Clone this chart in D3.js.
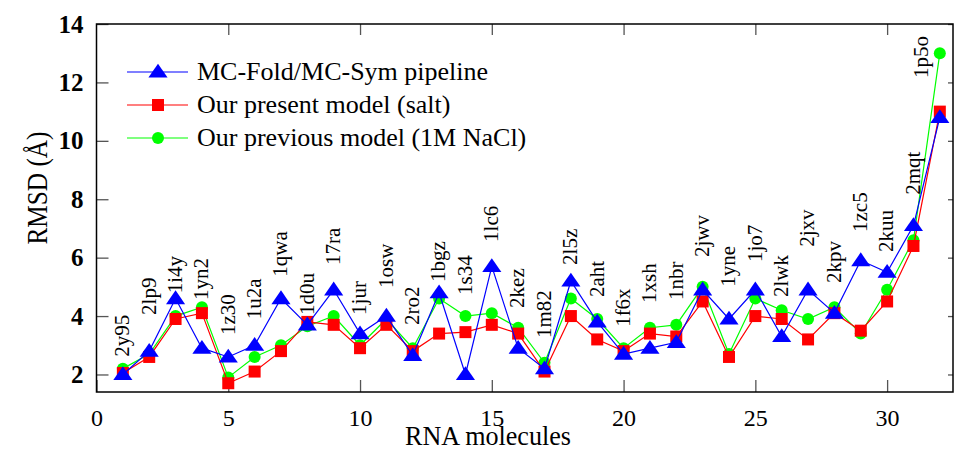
<!DOCTYPE html>
<html>
<head>
<meta charset="utf-8">
<script src="https://cdn.jsdelivr.net/npm/d3@7"></script>
<style>
  html, body { margin: 0; padding: 0; background: #fff; }
  svg { display: block; }
  svg text { font-family: "Liberation Serif", "Times New Roman", serif !important; }
</style>
</head>
<body>
<svg id="chart" width="955" height="451"></svg>
<script>
// ---- data ----
const molecules = ["2y95","2lp9","1i4y","1yn2","1z30","1u2a","1qwa","1d0u","17ra","1jur",
  "1osw","2ro2","1bgz","1s34","1lc6","2kez","1m82","2l5z","2aht","1f6x",
  "1xsh","1nbr","2jwv","1yne","1jo7","2lwk","2jxv","2kpv","1zc5","2kuu","2mqt","1p5o"];
const mcfold   = [2.0,2.8,4.6,2.9,2.6,3.0,4.6,3.7,4.9,3.4,4.0,2.65,4.8,2.0,5.7,2.9,2.2,5.2,3.8,2.7,2.9,3.1,4.9,3.9,4.9,3.3,4.9,4.1,5.9,5.5,7.1,10.8];
const present  = [2.05,2.6,3.9,4.1,1.7,2.1,2.8,3.8,3.7,2.9,3.7,2.8,3.4,3.45,3.7,3.4,2.1,4.0,3.2,2.8,3.4,3.3,4.5,2.6,4.0,3.9,3.2,4.1,3.5,4.5,6.4,11.0];
const previous = [2.2,2.7,4.0,4.3,1.9,2.6,3.0,3.65,4.0,3.0,3.9,2.9,4.6,4.0,4.1,3.6,2.4,4.6,3.9,2.9,3.6,3.7,5.0,2.7,4.6,4.2,3.9,4.3,3.4,4.9,6.6,13.0];
// y value (RMSD units) where each rotated name label starts
const labelAt  = [2.61,4.04,4.78,4.55,3.35,3.89,5.35,4.04,5.75,4.04,4.96,3.69,5.17,4.72,6.54,4.28,3.25,5.75,4.65,3.63,4.45,4.55,6.02,5.0,5.85,4.65,6.37,5.13,6.88,6.19,8.15,12.15];
const xTicks = [0,5,10,15,20,25,30];
const yTicks = [2,4,6,8,10,12,14];
const seriesNames = ["MC-Fold/MC-Sym pipeline","Our present model (salt)","Our previous model (1M NaCl)"];

// ---- layout ----
const svg = d3.select("#chart");
const L = 96.5, R = 953, T = 24, B = 392;
const x = d3.scaleLinear().domain([0, 32.5]).range([L, R]);
const y = d3.scaleLinear().domain([1.4, 14]).range([B, T]);

const series = [
  {name: seriesNames[2], values: previous, color: "#00ff00", legendColor: "#55ff55", shape: "circle"},
  {name: seriesNames[1], values: present,  color: "#ff0000", legendColor: "#ff5555", shape: "square"},
  {name: seriesNames[0], values: mcfold,   color: "#0000ff", legendColor: "#5555ff", shape: "triangle"}
];

// axes
const tickColor = "#555";
function styleAxis(g) {
  g.select(".domain").remove();
  g.selectAll(".tick line").attr("stroke", tickColor).attr("stroke-width", 1.3);
}
svg.append("g").attr("transform", `translate(${L},0)`)
  .call(d3.axisLeft(y).tickValues(yTicks).tickSize(-12).tickPadding(13).tickFormat(d3.format("d")))
  .call(styleAxis)
  .call(g => g.selectAll("text").style("font-size", "25px").style("font-weight", "bold").attr("fill", "#000"));
svg.append("g").attr("transform", `translate(${R},0)`)
  .call(d3.axisRight(y).tickValues(yTicks).tickSize(-5).tickFormat(""))
  .call(styleAxis);
svg.append("g").attr("transform", `translate(0,${B})`)
  .call(d3.axisBottom(x).tickValues(xTicks).tickSize(-12).tickPadding(17).tickFormat(d3.format("d")))
  .call(styleAxis)
  .call(g => g.selectAll("text").style("font-size", "24px").attr("fill", "#000"));
svg.append("g").attr("transform", `translate(0,${T})`)
  .call(d3.axisTop(x).tickValues(xTicks.filter(d => d > 0)).tickSize(-11).tickFormat(""))
  .call(styleAxis);

// frame
svg.append("rect").attr("x", L).attr("y", T).attr("width", R - L).attr("height", B - T)
  .attr("fill", "none").attr("stroke", "#000").attr("stroke-width", 1.5);

// marker drawing
const triangle = d3.symbol().type(d3.symbolTriangle).size(110);
function drawMarker(g, shape, color, cx, cy) {
  if (shape === "circle") {
    g.append("circle").attr("cx", cx).attr("cy", cy).attr("r", 6).attr("fill", color);
  } else if (shape === "square") {
    g.append("rect").attr("x", cx - 6).attr("y", cy - 6).attr("width", 12).attr("height", 12).attr("fill", color);
  } else {
    g.append("path").attr("d", triangle()).attr("transform", `translate(${cx},${cy + 1}) scale(1.2,1)`).attr("fill", color);
  }
}

// series
const line = d3.line().x((d, i) => x(i + 1)).y(d => y(d));
series.forEach(s => {
  const g = svg.append("g");
  g.append("path").datum(s.values).attr("d", line).attr("fill", "none")
    .attr("stroke", s.color).attr("stroke-width", 1.2);
  s.values.forEach((v, i) => drawMarker(g, s.shape, s.color, x(i + 1), y(v)));
});

// molecule name labels
const labelShift = {"1p5o": -0.7};
const lg = svg.append("g").attr("fill", "#000");
molecules.forEach((m, i) => {
  const lx = x(i + 1 + (labelShift[m] || 0));
  const ly = y(labelAt[i]);
  lg.append("text").attr("transform", `translate(${lx},${ly}) rotate(-90)`)
    .style("font-size", "21px")
    .attr("dy", "0.3em").attr("text-anchor", "start").text(m);
});

// legend
const legendRows = [series[2], series[1], series[0]];
legendRows.forEach((s, i) => {
  const ry = 72 + i * 33;
  const g = svg.append("g");
  g.append("line").attr("x1", 127).attr("x2", 188).attr("y1", ry).attr("y2", ry)
    .attr("stroke", s.legendColor).attr("stroke-width", 1.5);
  drawMarker(g, s.shape, s.color, 158, ry);
  g.append("text").attr("x", 197).attr("y", ry).attr("dy", "0.32em")
    .style("font-size", "26px").attr("fill", "#000").text(s.name);
});

// axis titles
svg.append("text").attr("x", 488).attr("y", 445).attr("text-anchor", "middle")
  .style("font-size", "27px").attr("textLength", 166).attr("lengthAdjust", "spacingAndGlyphs")
  .text("RNA molecules");
svg.append("text").attr("transform", "translate(47,188) rotate(-90)").attr("text-anchor", "middle")
  .style("font-size", "30px").attr("textLength", 113).attr("lengthAdjust", "spacingAndGlyphs")
  .text("RMSD (Å)");
</script>
</body>
</html>
